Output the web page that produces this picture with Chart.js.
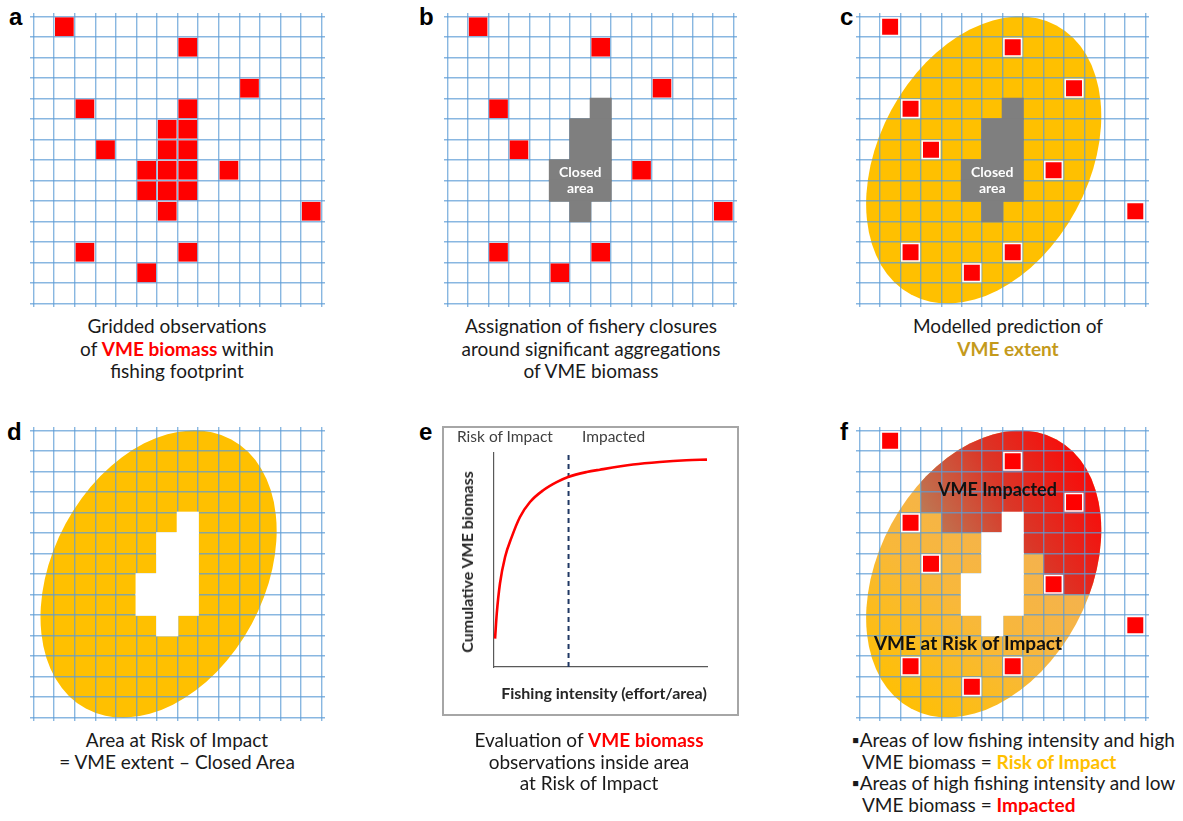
<!DOCTYPE html>
<html>
<head>
<meta charset="utf-8">
<title>VME biomass, closures and risk of impact</title>
<script src="https://cdn.jsdelivr.net/npm/chart.js@4.4.0/dist/chart.umd.min.js"></script>
<style>
  html, body { margin: 0; padding: 0; background: #fff; }
  #page { position: relative; width: 1183px; height: 821px; overflow: hidden;
          font-family: Lato, "Open Sans", sans-serif; color: #1a1a1a; }
  canvas { position: absolute; }
  .letter { position: absolute; font: bold 24px "Liberation Sans", Arial, sans-serif; line-height: 24px; color: #000; }
  .cap { position: absolute; transform: translateX(-50%); text-align: center; white-space: nowrap;
         font-size: 19px; line-height: 22.6px; }
  .capf { position: absolute; white-space: nowrap; font-size: 19px; line-height: 21.7px; }
  .capf .ind { padding-left: 10px; }
  .red { color: #ff0000; font-weight: bold; }
  .gold { color: #c49a1c; font-weight: bold; }
  .amber { color: #ffc000; font-weight: bold; }
  #boxE { position: absolute; left: 442px; top: 426px; width: 293px; height: 286px; border: 2px solid #a6a6a6; }
  .elab { position: absolute; white-space: nowrap; font-size: 15.5px; line-height: 18px; color: #404040; }
  .etitle { position: absolute; white-space: nowrap; font-weight: bold; font-size: 16px; line-height: 18px; color: #262626; }
</style>
</head>
<body>
<div id="page">
  <canvas id="chartA"></canvas>
  <canvas id="chartB"></canvas>
  <canvas id="chartC"></canvas>
  <canvas id="chartD"></canvas>
  <canvas id="chartF"></canvas>
  <div id="boxE"></div>
  <canvas id="chartE"></canvas>

  <div class="letter" style="left:9px;top:5px">a</div>
  <div class="letter" style="left:419px;top:5px">b</div>
  <div class="letter" style="left:840px;top:5px">c</div>
  <div class="letter" style="left:7px;top:420px">d</div>
  <div class="letter" style="left:419px;top:420px">e</div>
  <div class="letter" style="left:840px;top:420px">f</div>

  <div class="elab" style="left:457px;top:427px">Risk of Impact</div>
  <div class="elab" style="left:582px;top:427px">Impacted</div>
  <div class="etitle" style="left:467px;top:562px;transform:translate(-50%,-50%) rotate(-90deg)">Cumulative VME biomass</div>
  <div class="etitle" style="left:604px;top:693px;transform:translate(-50%,-50%)">Fishing intensity (effort/area)</div>

  <div class="cap" style="left:177px;top:315px">Gridded observations<br>of <span class="red">VME biomass</span> within<br>fishing footprint</div>
  <div class="cap" style="left:591px;top:315px">Assignation of fishery closures<br>around significant aggregations<br>of VME biomass</div>
  <div class="cap" style="left:1008px;top:315px">Modelled prediction of<br><span class="gold">VME extent</span></div>
  <div class="cap" style="left:177px;top:729px;line-height:21.7px">Area at Risk of Impact<br>= VME extent – Closed Area</div>
  <div class="cap" style="left:589px;top:729px;line-height:21.7px">Evaluation of <span class="red">VME biomass</span><br>observations inside area<br>at Risk of Impact</div>
  <div class="capf" style="left:852px;top:729px">▪Areas of low fishing intensity and high<br><span class="ind">VME biomass = <span class="amber">Risk of Impact</span></span><br>▪Areas of high fishing intensity and low<br><span class="ind">VME biomass = <span class="red">Impacted</span></span></div>
</div>

<script>
// Fishing footprint grid: 14 x 14 cells, each cell addressed as [column, row] from the top-left
const GRID_COLS = 14;
const GRID_ROWS = 14;

// Cells holding VME biomass observations, including the dense aggregation
const vmeCellsAll = [[1,0],[7,1],[10,3],[2,4],[7,4],[6,5],[7,5],[3,6],[6,6],[7,6],
                     [5,7],[6,7],[7,7],[9,7],[5,8],[6,8],[7,8],[6,9],[13,9],[2,11],[7,11],[5,12]];
// Observations remaining outside the closure
const vmeCellsOpen = [[1,0],[7,1],[10,3],[2,4],[3,6],[9,7],[13,9],[2,11],[7,11],[5,12]];
// Cells of the fishery closure
const closedCells = [[7,4],[6,5],[7,5],[6,6],[7,6],[5,7],[6,7],[7,7],[5,8],[6,8],[7,8],[6,9]];
// Impacted part of the VME extent, per row: [row, first column, last column]
const impactedSpans = [[0,0,13],[1,0,13],[2,3,13],[3,3,13],[4,4,13],[5,8,13],[6,9,13],[7,9,13]];
// Modelled VME extent (ellipse, in cell units)
const vmeExtent = { cx: 6.08, cy: 7.0, rx: 5.14, ry: 7.46, tiltDeg: 28.4 };

// Cumulative VME biomass against fishing intensity (relative units)
const effort     = [0.5, 1.3, 2.8, 5.2, 8.3, 12.2, 16.9, 23.1, 29.4, 34.8, 43.5, 49.7, 65.3, 77.8, 90.3, 100];
const cumBiomass = [13.3, 25.0, 39.0, 51.4, 60.7, 70.1, 77.1, 82.6, 86.4, 88.8, 91.1, 92.2, 94.6, 95.8, 96.6, 96.9];
const impactThreshold = 35;

// Pixel frames of the grid panels (outer grid lines)
const frames = {
  chartA: { x0: 33.3,  y0: 16,  x1: 321.7,  y1: 304 },
  chartB: { x0: 447.3, y0: 16,  x1: 734,    y1: 304 },
  chartC: { x0: 859.3, y0: 16,  x1: 1145.7, y1: 303.5 },
  chartD: { x0: 33.3,  y0: 430, x1: 321.7,  y1: 717.3 },
  chartF: { x0: 859.3, y0: 430, x1: 1145.7, y1: 717.3 }
};
const EXT = 0.17;   // grid lines run a little past the outer lines
const GRID_COLOR = 'rgba(91,155,213,0.72)';

const gridTicks = n => Array.from({ length: n + 1 }, (_, i) => ({ value: i }));
const toPoints = cells => cells.map(([c, r]) => ({ x: c + 0.5, y: r + 0.5 }));
const cellPx = chart => Math.abs(chart.scales.x.getPixelForValue(1) - chart.scales.x.getPixelForValue(0));

function extentPath(chart) {
  const xs = chart.scales.x, ys = chart.scales.y, ctx = chart.ctx;
  const px = cellPx(chart);
  const py = Math.abs(ys.getPixelForValue(1) - ys.getPixelForValue(0));
  ctx.beginPath();
  ctx.ellipse(xs.getPixelForValue(vmeExtent.cx), ys.getPixelForValue(vmeExtent.cy),
              vmeExtent.rx * px, vmeExtent.ry * py, vmeExtent.tiltDeg * Math.PI / 180, 0, Math.PI * 2);
}

// Draws the VME extent under the grid, and text labels over the cells
const extentPlugin = {
  id: 'vmeExtent',
  beforeDraw(chart, args, opts) {
    if (!opts.mode) return;
    const ctx = chart.ctx, xs = chart.scales.x, ys = chart.scales.y;
    const X = v => xs.getPixelForValue(v), Y = v => ys.getPixelForValue(v);
    ctx.save();
    extentPath(chart);
    if (opts.mode === 'plain') {
      ctx.fillStyle = '#ffc000';
      ctx.fill();
    } else {
      const g = ctx.createLinearGradient(X(1), Y(13), X(8), Y(5));
      g.addColorStop(0, '#ffc000');
      g.addColorStop(0.55, '#f8b83a');
      g.addColorStop(1, '#f4b24e');
      ctx.fillStyle = g;
      ctx.fill();
      ctx.clip();
      const r = ctx.createLinearGradient(X(4), Y(5.5), X(11.5), Y(1.5));
      r.addColorStop(0, 'rgb(190,118,82)');
      r.addColorStop(0.45, 'rgb(218,55,40)');
      r.addColorStop(1, 'rgb(252,6,6)');
      ctx.fillStyle = r;
      ctx.beginPath();
      impactedSpans.forEach(([row, c0, c1]) => {
        ctx.rect(X(c0), Y(row), X(c1 + 1) - X(c0), Y(row + 1) - Y(row));
      });
      ctx.fill();
    }
    ctx.restore();
  },
  afterDatasetsDraw(chart, args, opts) {
    if (!opts.labels) return;
    const ctx = chart.ctx, xs = chart.scales.x, ys = chart.scales.y;
    ctx.save();
    ctx.textAlign = 'center';
    ctx.textBaseline = 'middle';
    opts.labels.forEach(l => {
      ctx.font = l.font;
      ctx.fillStyle = l.color;
      ctx.fillText(l.text, xs.getPixelForValue(l.x), ys.getPixelForValue(l.y) + (l.dy || 0));
    });
    ctx.restore();
  }
};

function gridChart(id, cfg) {
  const f = frames[id];
  const cw = (f.x1 - f.x0) / GRID_COLS, ch = (f.y1 - f.y0) / GRID_ROWS;
  const left = Math.round(f.x0 - EXT * cw), top = Math.round(f.y0 - EXT * ch);
  const width = Math.round(f.x1 + EXT * cw) - left, height = Math.round(f.y1 + EXT * ch) - top;
  const el = document.getElementById(id);
  el.width = width; el.height = height;
  el.style.left = left + 'px'; el.style.top = top + 'px';
  el.style.width = width + 'px'; el.style.height = height + 'px';

  const datasets = [];
  if (cfg.closedColor) {
    datasets.push({
      data: toPoints(closedCells), pointStyle: 'rect',
      pointRadius: c => (cellPx(c.chart) + 1.6) / Math.SQRT2,
      pointBackgroundColor: cfg.closedColor, pointBorderWidth: 0
    });
  }
  if (cfg.cells) {
    datasets.push({
      data: toPoints(cfg.cells), pointStyle: 'rect',
      pointRadius: c => cellPx(c.chart) * (cfg.outline ? 0.86 : 0.91) / Math.SQRT2,
      pointBackgroundColor: '#ff0000', pointBorderColor: '#ffffff',
      pointBorderWidth: cfg.outline ? 1.6 : 0
    });
  }
  const axis = (n, reverse) => ({
    type: 'linear', min: -EXT, max: n + EXT, reverse,
    afterBuildTicks: s => { s.ticks = gridTicks(n); },
    ticks: { display: false },
    grid: { color: GRID_COLOR, lineWidth: 1.4, drawTicks: false },
    border: { display: false }
  });
  return new Chart(el, {
    type: 'scatter',
    data: { datasets: datasets.reverse() },
    options: {
      responsive: false, animation: false, events: [],
      layout: { padding: 0 },
      plugins: {
        legend: { display: false }, tooltip: { enabled: false },
        vmeExtent: { mode: cfg.extent || null, labels: cfg.labels || null }
      },
      datasets: { scatter: { clip: false } },
      scales: { x: axis(GRID_COLS, false), y: axis(GRID_ROWS, true) }
    },
    plugins: [extentPlugin]
  });
}

const closedLabels = [
  { text: 'Closed', x: 6.5, y: 8, dy: -8, color: '#ffffff', font: 'bold 14px Lato, sans-serif' },
  { text: 'area',   x: 6.5, y: 8, dy: 8,  color: '#ffffff', font: 'bold 14px Lato, sans-serif' }
];

gridChart('chartA', { cells: vmeCellsAll });
gridChart('chartB', { cells: vmeCellsOpen, closedColor: '#7f7f7f', labels: closedLabels });
gridChart('chartC', { cells: vmeCellsOpen, closedColor: '#7f7f7f', labels: closedLabels, extent: 'plain', outline: true });
gridChart('chartD', { closedColor: '#ffffff', extent: 'plain' });
gridChart('chartF', {
  cells: vmeCellsOpen, closedColor: '#ffffff', extent: 'split', outline: true,
  labels: [
    { text: 'VME Impacted', x: 6.75, y: 2.92, color: '#111111', font: 'bold 18px Lato, sans-serif' },
    { text: 'VME at Risk of Impact', x: 5.31, y: 10.43, color: '#111111', font: 'bold 19px Lato, sans-serif' }
  ]
});

// Panel e: cumulative VME biomass curve
(function () {
  const el = document.getElementById('chartE');
  const left = 444, top = 428, width = 293, height = 286;
  el.width = width; el.height = height;
  el.style.left = left + 'px'; el.style.top = top + 'px';
  el.style.width = width + 'px'; el.style.height = height + 'px';
  const flatAxis = { type: 'linear', min: 0, max: 100,
    ticks: { display: false }, grid: { display: false, drawTicks: false },
    border: { display: true, color: '#595959', width: 1.2 } };
  new Chart(el, {
    type: 'line',
    data: {
      datasets: [
        { data: effort.map((x, i) => ({ x, y: cumBiomass[i] })), borderColor: '#ff0000',
          borderWidth: 2.6, pointRadius: 0, cubicInterpolationMode: 'monotone', fill: false },
        { data: [{ x: impactThreshold, y: 0 }, { x: impactThreshold, y: 100.5 }], borderColor: '#203864',
          borderWidth: 2, borderDash: [5, 4], pointRadius: 0, fill: false }
      ]
    },
    options: {
      responsive: false, animation: false, events: [],
      layout: { padding: { left: 50, top: 25, right: 30, bottom: 47 } },
      plugins: { legend: { display: false }, tooltip: { enabled: false } },
      datasets: { line: { clip: false } },
      scales: { x: flatAxis, y: Object.assign({}, flatAxis) }
    }
  });
})();
</script>
</body>
</html>
